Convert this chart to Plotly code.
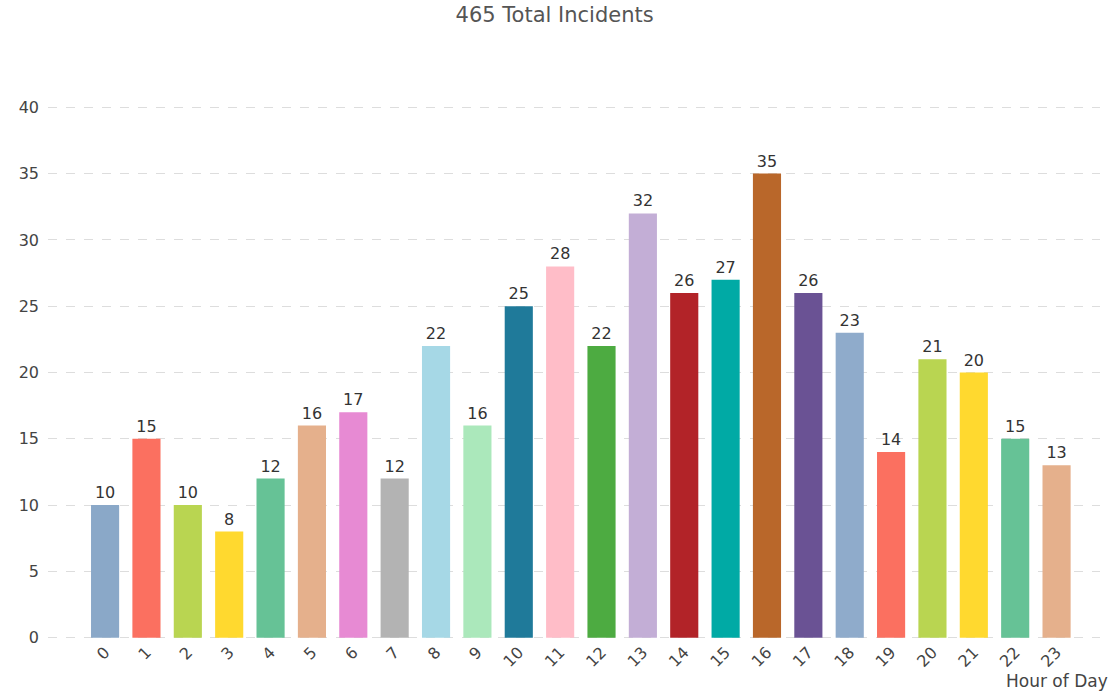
import plotly.graph_objects as go

hours = [str(h) for h in range(24)]
incidents = [10, 15, 10, 8, 12, 16, 17, 12, 22, 16, 25, 28, 22, 32, 26, 27, 35, 26, 23, 14, 21, 20, 15, 13]
colors = ["#8aa8c8", "#fb7060", "#b9d551", "#ffd92f", "#66c296", "#e5b08c", "#e78ad3", "#b3b3b3",
          "#a6d8e6", "#abe8bb", "#1f7a9a", "#ffbdc8", "#4dab41", "#c3aed6", "#b22328", "#00aaa5",
          "#b9672a", "#6a5294", "#8fabcb", "#fb7060", "#b9d551", "#ffd92f", "#66c296", "#e5b08c"]
y_ticks = [0, 5, 10, 15, 20, 25, 30, 35, 40]
title_text = "465 Total Incidents"
x_title = "Hour of Day"

fig = go.Figure(go.Bar(
    x=list(range(24)), y=incidents,
    marker=dict(color=colors, line=dict(width=0)),
    width=0.68,
    text=[str(v) for v in incidents], textposition="outside",
    textfont=dict(family="DejaVu Sans", size=16, color="#333333"),
    cliponaxis=False,
))

fig.update_layout(
    width=1116, height=692,
    paper_bgcolor="white", plot_bgcolor="white",
    margin=dict(l=48, r=16, t=106, b=53),
    title=dict(text=title_text, x=0.497, xanchor="center", y=0.979, yanchor="middle",
               font=dict(family="DejaVu Sans", size=21, color="#555555")),
    showlegend=False,
    xaxis=dict(
        tickmode="array", tickvals=list(range(24)), ticktext=hours,
        tickangle=-45, range=[-1.38, 24.05],
        tickfont=dict(family="DejaVu Sans", size=16, color="#444444"),
        showgrid=False, zeroline=False, showline=False, ticks="",
    ),
    yaxis=dict(
        range=[-0.1, 40.1], tickvals=y_ticks,
        tickfont=dict(family="DejaVu Sans", size=16, color="#444444"),
        showgrid=True, gridcolor="#dddddd", griddash="dash", gridwidth=1,
        zeroline=False, showline=False, ticks="", ticklabelstandoff=8,
    ),
    annotations=[dict(text=x_title, x=1.0, xref="paper", xanchor="right",
                      y=0, yref="paper", yanchor="middle", yshift=-42, xshift=10,
                      showarrow=False,
                      font=dict(family="DejaVu Sans", size=17, color="#444444"))],
)
fig.write_html("out.html", config={"displayModeBar": False},
               post_script="document.body.style.margin='0';")
